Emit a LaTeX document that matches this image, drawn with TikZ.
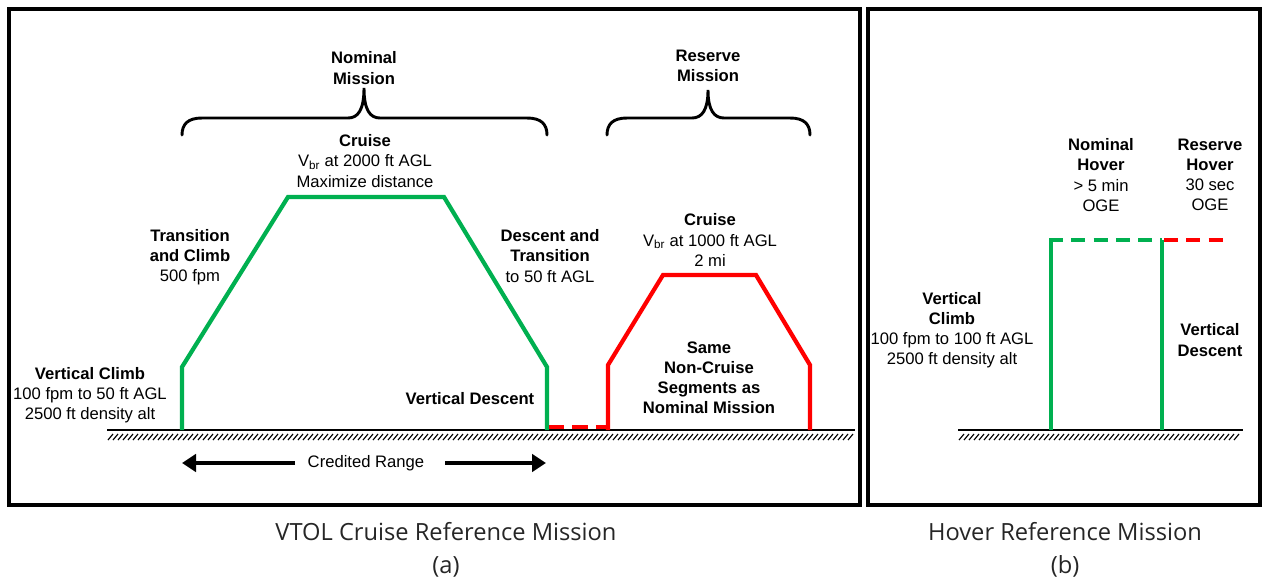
\documentclass[tikz,border=0pt]{standalone}
\usepackage{fontspec}
\setmainfont{Liberation Sans}
\newfontfamily\capfont{Open Sans}
\usetikzlibrary{arrows.meta}

\definecolor{pathgreen}{RGB}{0,176,80}
\definecolor{pathred}{RGB}{255,0,0}

\begin{document}
\begin{tikzpicture}[
    x=0.03cm, y=-0.03cm,
    lbl/.style={align=center, inner sep=0pt, font=\fontsize{14.2}{17.2}\selectfont},
    boldlbl/.style={lbl, font=\fontsize{14.2}{17.2}\selectfont\bfseries},
    capt/.style={align=center, inner sep=0pt, font=\capfont\fontsize{20.2}{28}\selectfont, text=black!85},
    panel/.style={draw, line width=2.6pt},
    ground/.style={line width=2.4pt},
    hatch/.style={line width=1pt},
    nominal/.style={draw=pathgreen, line width=3.6pt},
    reserve/.style={draw=pathred, line width=3.6pt},
    bracket/.style={line width=2.5pt, line cap=round},
    rangearrow/.style={-{Triangle[length=0.42cm,width=0.52cm]}, line width=4.2pt}
]

\useasboundingbox (0,0) rectangle (1263,579);

% Panel frames
\draw[panel] (9,9) rectangle (860,505);
\draw[panel] (868,9) rectangle (1260,505);

% Ground lines
\coordinate (gA1) at (107,430);
\coordinate (gA2) at (855,430);
\coordinate (gB1) at (958,430);
\coordinate (gB2) at (1243,430);
\draw[ground] (gA1) -- (gA2);
\draw[ground] (gB1) -- (gB2);
\foreach \x in {108,113,...,850}
    \draw[hatch] (\x,440) -- (\x+5,434);
\foreach \x in {959,964,...,1238}
    \draw[hatch] (\x,440) -- (\x+5,434);

% Nominal mission profile
\coordinate (n0) at (182,430);
\coordinate (n1) at (182,367);
\coordinate (n2) at (288,197);
\coordinate (n3) at (444,197);
\coordinate (n4) at (547,367);
\coordinate (n5) at (547,430);
\draw[nominal, line join=miter] (n0) -- (n1) -- (n2) -- (n3) -- (n4) -- (n5);

% Reserve mission profile
\coordinate (r0) at (608,430);
\coordinate (r1) at (608,365);
\coordinate (r2) at (663,275);
\coordinate (r3) at (756,275);
\coordinate (r4) at (810,365);
\coordinate (r5) at (810,430);
\coordinate (d0) at (549,427);
\coordinate (d1) at (608,427);
\draw[reserve, dash pattern=on 13pt off 7pt] (d0) -- (d1);
\draw[reserve, line join=miter] (r0) -- (r1) -- (r2) -- (r3) -- (r4) -- (r5);

% Hover mission profile
\coordinate (h0) at (1051,430);
\coordinate (h1) at (1051,240);
\coordinate (h2) at (1162,240);
\coordinate (h3) at (1162,430);
\coordinate (h4) at (1228,240);
\draw[nominal] (h0) -- (h1);
\draw[nominal] (h3) -- (h2);
\draw[nominal, dash pattern=on 12pt off 7pt] (1049,240) -- (h2);
\draw[reserve, dash pattern=on 12pt off 7pt] (1164,240) -- (h4);

% Braces
\draw[bracket] (182,135) .. controls (182,124) and (188,118) .. (202,118)
    -- (348,118) .. controls (358,118) and (364,110) .. (364,88)
    .. controls (364,110) and (370,118) .. (380,118)
    -- (527,118) .. controls (541,118) and (547,124) .. (547,135);
\draw[bracket] (607,135) .. controls (607,124) and (613,118) .. (627,118)
    -- (692,118) .. controls (702,118) and (708,110) .. (708,90)
    .. controls (708,110) and (714,118) .. (724,118)
    -- (790,118) .. controls (804,118) and (810,124) .. (810,135);

% Labels - cruise mission
\node[boldlbl] (nommis) at (364,68) {Nominal\\Mission};
\node[boldlbl] (resmis) at (708,66) {Reserve\\Mission};
\node[lbl] (cruiseA) at (365,161) {\textbf{Cruise}\\V\textsubscript{br} at 2000 ft AGL\\Maximize distance};
\node[lbl] (climb) at (190,257) {\textbf{Transition}\\\textbf{and Climb}\\500 fpm};
\node[lbl] (descent) at (550,256) {\textbf{Descent and}\\\textbf{Transition}\\to 50 ft AGL};
\node[lbl] (cruiseB) at (710,240) {\textbf{Cruise}\\V\textsubscript{br} at 1000 ft AGL\\2 mi};
\node[boldlbl] (same) at (709,378) {Same\\Non-Cruise\\Segments as\\Nominal Mission};
\node[lbl] (vclimbA) at (90,395) {\textbf{Vertical Climb}\\100 fpm to 50 ft AGL\\2500 ft density alt};
\node[boldlbl] (vdescA) at (470,399) {Vertical Descent};

% Credited range arrows
\node[lbl] (credit) at (366,463) {Credited Range};
\coordinate (ra) at (182,463);
\coordinate (rb) at (546,463);
\draw[rangearrow] (295,463) -- (ra);
\draw[rangearrow] (445,463) -- (rb);

% Labels - hover mission
\node[lbl] (nomhov) at (1101,175) {\textbf{Nominal}\\\textbf{Hover}\\> 5 min\\OGE};
\node[lbl] (reshov) at (1210,175) {\textbf{Reserve}\\\textbf{Hover}\\30 sec\\OGE};
\node[lbl] (vclimbB) at (952,330) {\textbf{Vertical}\\\textbf{Climb}\\100 fpm to 100 ft AGL\\2500 ft density alt};
\node[boldlbl] (vdescB) at (1210,340) {Vertical\\Descent};

% Captions
\node[capt] (capA) at (446,550) {VTOL Cruise Reference Mission\\(a)};
\node[capt] (capB) at (1065,550) {Hover Reference Mission\\(b)};

\end{tikzpicture}
\end{document}
